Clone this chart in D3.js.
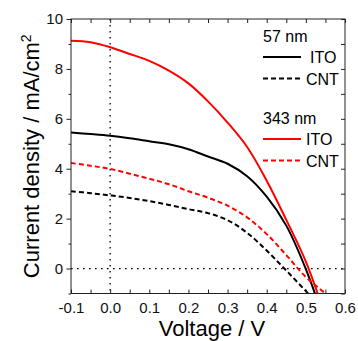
<!DOCTYPE html>
<html>
<head>
<meta charset="utf-8">
<script src="https://cdn.jsdelivr.net/npm/d3@7"></script>
<style>
    body { margin: 0; background: #fff; }
    svg { display: block; font-family: "Liberation Sans", Arial, sans-serif; }
</style>
</head>
<body>
<div id="chart"></div>
<script>
// Voltage grid (V) shared by all four J-V curves
const voltage = [-0.1, -0.05, 0, 0.05, 0.1, 0.15, 0.2, 0.25, 0.3, 0.35, 0.4, 0.45, 0.5, 0.55, 0.6];

// Current density (mA/cm2)
const ito57  = [5.45, 5.39, 5.32, 5.22, 5.10, 4.98, 4.78, 4.49, 4.20, 3.70, 2.88, 1.72, -0.02, -2.2, -4.5];
const cnt57  = [3.10, 3.02, 2.93, 2.83, 2.70, 2.55, 2.38, 2.22, 1.94, 1.43, 0.72, -0.08, -0.90, -1.7, -2.6];
const ito343 = [9.13, 9.07, 8.87, 8.60, 8.32, 7.93, 7.42, 6.70, 5.85, 4.87, 3.52, 1.95, 0.28, -1.9, -4.2];
const cnt343 = [4.23, 4.12, 3.99, 3.80, 3.60, 3.38, 3.10, 2.84, 2.52, 2.05, 1.38, 0.54, -0.34, -1.0, -1.7];

const xTicks = [-0.1, 0.0, 0.1, 0.2, 0.3, 0.4, 0.5, 0.6];
const yTicks = [0, 2, 4, 6, 8, 10];

const width = 358, height = 341;
const margin = {top: 19, left: 71, right: 13, bottom: 47.5};
const w = width - margin.left - margin.right;
const h = height - margin.top - margin.bottom;

const svg = d3.select("#chart").append("svg")
    .attr("width", width)
    .attr("height", height);

const g = svg.append("g")
    .attr("transform", "translate(" + margin.left + "," + margin.top + ")");

const x = d3.scaleLinear().domain([-0.1, 0.6]).range([0, w]);
const y = d3.scaleLinear().domain([-1, 10]).range([h, 0]);

g.append("clipPath").attr("id", "plot-clip")
    .append("rect").attr("width", w).attr("height", h);

// dotted guide lines at V = 0 and J = 0
g.append("line")
    .attr("x1", x(0)).attr("x2", x(0)).attr("y1", 0).attr("y2", h)
    .style("stroke", "#000").style("stroke-width", 1.3).style("stroke-dasharray", "1.6,4.4");
g.append("line")
    .attr("x1", 0).attr("x2", w).attr("y1", y(0)).attr("y2", y(0))
    .style("stroke", "#000").style("stroke-width", 1.3).style("stroke-dasharray", "1.6,4.4");

// curves
const series = [
    {values: ito57, color: "#000", dash: null},
    {values: cnt57, color: "#000", dash: "5,3"},
    {values: ito343, color: "#ff0000", dash: null},
    {values: cnt343, color: "#ff0000", dash: "5,3"}
];

const line = d3.line()
    .x(function (d) { return x(d[0]); })
    .y(function (d) { return y(d[1]); })
    .curve(d3.curveCatmullRom.alpha(0.5));

g.append("g").attr("clip-path", "url(#plot-clip)")
    .selectAll("path")
    .data(series)
    .enter().append("path")
    .attr("d", function (s) { return line(voltage.map(function (v, i) { return [v, s.values[i]]; })); })
    .style("fill", "none")
    .style("stroke", function (s) { return s.color; })
    .style("stroke-width", 2)
    .style("stroke-dasharray", function (s) { return s.dash; });

// axes
const minorX = d3.range(-0.1, 0.601, 0.05);
const minorY = d3.range(-1, 10.01, 1);

function styleAxis(axis) {
    axis.select(".domain").remove();
    axis.selectAll("line").style("stroke", "#222").style("stroke-width", 1);
    axis.selectAll("text").style("font-size", "15px").style("fill", "#111");
}

const bottomAxis = g.append("g")
    .attr("transform", "translate(0," + h + ")")
    .call(d3.axisBottom(x).tickValues(minorX).tickSize(-4).tickSizeOuter(0).tickPadding(9)
        .tickFormat(function (d) {
            const hit = xTicks.find(function (t) { return Math.abs(t - d) < 1e-6; });
            return hit === undefined ? "" : hit.toFixed(1);
        }));
styleAxis(bottomAxis);

const topAxis = g.append("g")
    .call(d3.axisTop(x).tickValues(minorX).tickSize(-4).tickSizeOuter(0).tickFormat(""));
styleAxis(topAxis);

const leftAxis = g.append("g")
    .call(d3.axisLeft(y).tickValues(yTicks).tickSize(4.5).tickSizeOuter(0).tickPadding(3.5)
        .tickFormat(d3.format("d")));
styleAxis(leftAxis);

const leftMinor = g.append("g")
    .call(d3.axisLeft(y).tickValues(minorY.filter(function (d) { return d % 2 !== 0; }))
        .tickSize(2.5).tickSizeOuter(0).tickFormat(""));
styleAxis(leftMinor);

const rightAxis = g.append("g")
    .attr("transform", "translate(" + w + ",0)")
    .call(d3.axisRight(y).tickValues(minorY).tickSize(-4).tickSizeOuter(0).tickFormat(""));
styleAxis(rightAxis);

// frame
g.append("rect")
    .attr("width", w).attr("height", h)
    .style("fill", "none").style("stroke", "#222").style("stroke-width", 1);

// axis titles
svg.append("text")
    .attr("x", margin.left + w / 2 + 4)
    .attr("y", 336)
    .attr("text-anchor", "middle")
    .style("font-size", "22px")
    .text("Voltage / V");

const yTitle = svg.append("text")
    .attr("transform", "translate(39," + (margin.top + h / 2) + ") rotate(-90)")
    .attr("text-anchor", "middle")
    .style("font-size", "22px");
yTitle.append("tspan").text("Current density / mA/cm");
yTitle.append("tspan").attr("dy", -8).style("font-size", "14px").text("2");

// legend
const legend = [
    {title: "57 nm", rows: [{label: "ITO", color: "#000", dash: null, dx: 4}, {label: "CNT", color: "#000", dash: "5,3", dx: 0}]},
    {title: "343 nm", rows: [{label: "ITO", color: "#ff0000", dash: null, dx: 0}, {label: "CNT", color: "#ff0000", dash: "5,3", dx: 0}]}
];

legend.forEach(function (grp, gi) {
    const base = 42 + gi * 82;
    svg.append("text")
        .attr("x", 263).attr("y", base)
        .style("font-size", "16px")
        .text(grp.title);
    grp.rows.forEach(function (r, ri) {
        const ly = base + 15 + ri * 21.5;
        svg.append("line")
            .attr("x1", 263).attr("x2", 301).attr("y1", ly).attr("y2", ly)
            .style("stroke", r.color).style("stroke-width", 2)
            .style("stroke-dasharray", r.dash);
        svg.append("text")
            .attr("x", 306 + r.dx).attr("y", ly + 6)
            .style("font-size", "16px")
            .text(r.label);
    });
});
</script>
</body>
</html>
